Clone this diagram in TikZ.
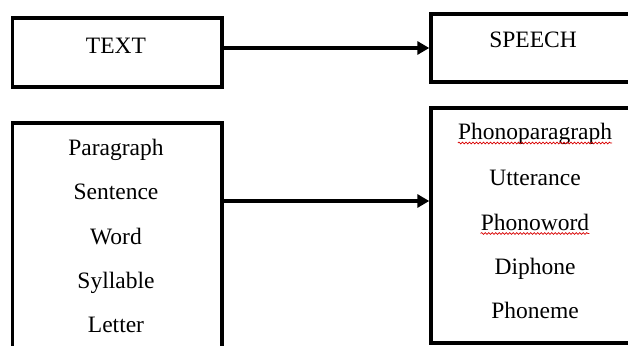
\documentclass[tikz,border=0pt]{standalone}
\usepackage{fontspec}
\setmainfont{Liberation Serif}
\usetikzlibrary{arrows.meta,decorations.pathmorphing}
\begin{document}
\begin{tikzpicture}[x=1pt,y=-1pt,
  box/.style={draw=black,line width=3.4pt,inner sep=0pt,fill=white},
  lbl/.style={anchor=base,inner xsep=0pt,inner ysep=1pt,font=\fontsize{23.5}{27}\selectfont},
  arr/.style={line width=4.4pt,-{Triangle[length=12pt,width=13pt]}},
  squig/.style={draw=red!85!black,line width=0.7pt,decorate,decoration={snake,amplitude=0.9pt,segment length=3.5pt}}]
\useasboundingbox (0,0) rectangle (628,345);
\clip (0,0) rectangle (628,345);
% boxes
\node[box,minimum width=209.5pt,minimum height=69pt] (textbox) at (117.25,52.5) {};
\node[box,minimum width=210pt,minimum height=68pt] (speechbox) at (536,48) {};
\node[box,minimum width=209.5pt,minimum height=260pt] (leftbox) at (117.25,253) {};
\node[box,minimum width=210pt,minimum height=235pt] (rightbox) at (536,225.5) {};
% labels
\node[lbl] (ltext) at (116,53) {TEXT};
\node[lbl] (lspeech) at (533,48) {SPEECH};
\node[lbl] (l1) at (116,155) {Paragraph};
\node[lbl] (l2) at (116,199.5) {Sentence};
\node[lbl] (l3) at (116,244) {Word};
\node[lbl] (l4) at (116,288) {Syllable};
\node[lbl] (l5) at (116,332) {Letter};
\node[lbl] (r1) at (535,139.5) {Phonoparagraph};
\node[lbl] (r2) at (535,185) {Utterance};
\node[lbl] (r3) at (535,230) {Phonoword};
\node[lbl] (r4) at (535,274.5) {Diphone};
\node[lbl] (r5) at (535,318) {Phoneme};
% spell-check squiggles
\draw[squig] ([yshift=-3.5pt]r1.base west) -- ([yshift=-3.5pt]r1.base east);
\draw[squig] ([yshift=-3.5pt]r3.base west) -- ([yshift=-3.5pt]r3.base east);
% arrows
\coordinate (a2) at (0,201);
\draw[arr] (textbox.east |- speechbox.west) -- (speechbox.west);
\draw[arr] (leftbox.east |- a2) -- (rightbox.west |- a2);
\end{tikzpicture}
\end{document}
